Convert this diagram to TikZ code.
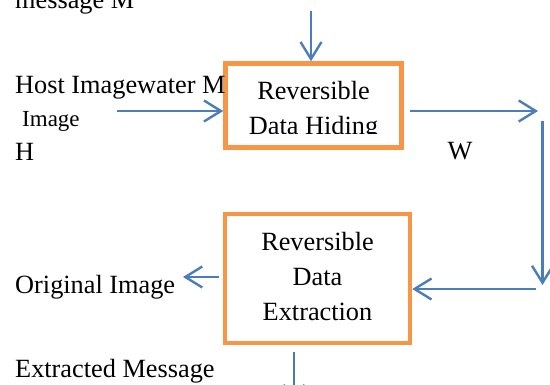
\documentclass[tikz,border=0pt]{standalone}
\usepackage{fontspec}
\setmainfont{Liberation Serif}
\usetikzlibrary{arrows.meta}
\definecolor{boxorange}{HTML}{F79646}
\definecolor{lineblue}{HTML}{4A7EBB}
\begin{document}
\begin{tikzpicture}[x=1pt,y=-1pt,
  box/.style={draw=boxorange,line width=4.5pt,inner sep=0pt},
  conn/.style={draw=lineblue,line width=2.4pt,-{Straight Barb[length=17pt,width=21pt]}},
  lbl/.style={anchor=base west,inner sep=0pt,font=\fontsize{26.3}{31}\selectfont},
  ctr/.style={anchor=base,inner sep=0pt,font=\fontsize{26.3}{31}\selectfont}]
\useasboundingbox (0,0) rectangle (550,385);

% boxes
\node[box,minimum width=176pt,minimum height=84pt] (box1) at (313.5,105.5) {};
\node[box,minimum width=185pt,minimum height=129pt] (box2) at (317.5,278.5) {};

% box texts
\begin{scope}
  \clip (226,60) rectangle (401,133.5);
  \node[ctr] (t1a) at (313.5,100) {Reversible};
  \node[ctr] (t1b) at (313.5,135) {Data Hiding};
\end{scope}
\node[ctr] (t2a) at (317.5,251) {Reversible};
\node[ctr] (t2b) at (317.5,286) {Data};
\node[ctr] (t2c) at (317.5,321) {Extraction};

% labels
\node[lbl] (msgM) at (15,9) {message M};
\node[lbl] (host) at (15,94) {Host Imagewater M};
\node[lbl,font=\fontsize{23}{28}\selectfont] (img) at (22,127) {Image};
\node[lbl] (hlab) at (15,161) {H};
\node[lbl] (orig) at (15,294) {Original Image};
\node[lbl] (extr) at (15,378) {Extracted Message};
\node[ctr] (wlab) at (460,160) {W};

% connectors
\coordinate (topin) at (311,11);
\draw[conn] (topin) -- (topin |- box1.north);
\coordinate (hin) at (117,111);
\draw[conn] (hin) -- (hin -| box1.west);
\coordinate (wout) at (538,111);
\draw[conn] ([xshift=6pt]box1.east |- wout) -- (wout);
\coordinate (vtop) at (542.5,121);
\coordinate (vbot) at (542.5,285);
\draw[conn] (vtop) -- (vbot);
\coordinate (bin) at (536,289);
\draw[conn] (bin) -- (bin -| box2.east);
\coordinate (oout) at (183,277);
\draw[conn] ([xshift=-4pt]box2.west |- oout) -- (oout);
\coordinate (mout) at (294,404);
\draw[conn] ([yshift=-6.5pt]box2.south -| mout) -- (mout);
\end{tikzpicture}
\end{document}
